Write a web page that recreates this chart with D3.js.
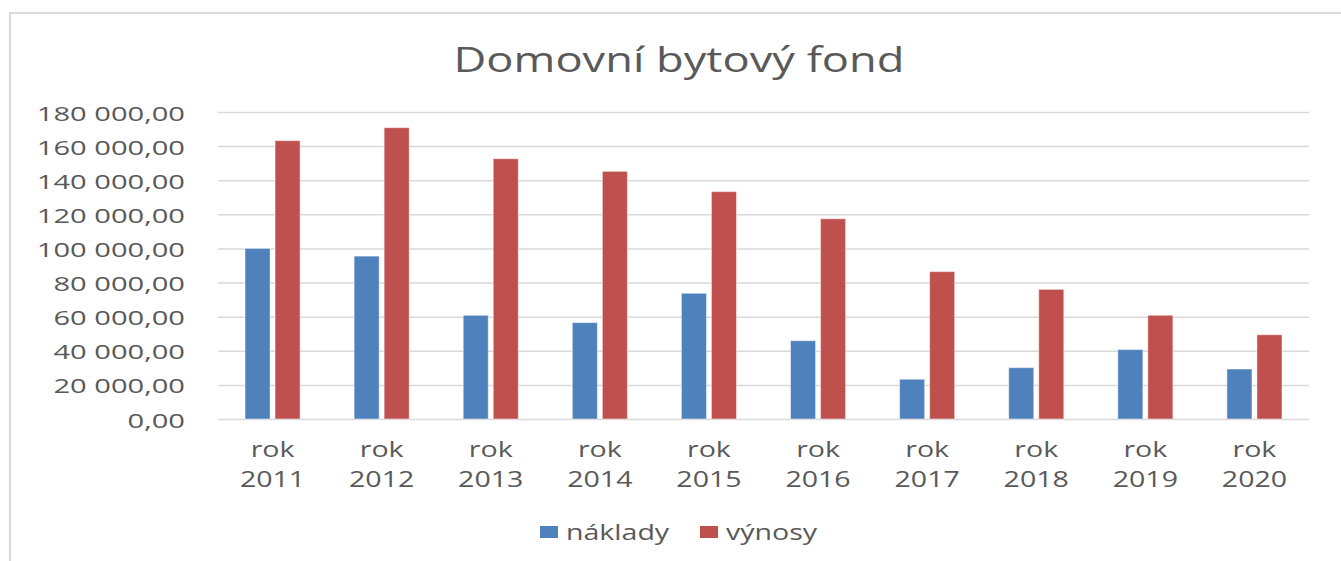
<!DOCTYPE html>
<html>
<head>
<meta charset="utf-8">
<script src="https://cdn.jsdelivr.net/npm/d3@7"></script>
<style>
  body { margin: 0; background: #fff; }
  text { font-family: "Open Sans", sans-serif; fill: #595959; }
</style>
</head>
<body>
<div id="chart"></div>
<script>
// data
let years = ['2011', '2012', '2013', '2014', '2015', '2016', '2017', '2018', '2019', '2020'];
let seriesNames = ['náklady', 'výnosy'];
let naklady = [100000, 95500, 60800, 56500, 73700, 45900, 23300, 30100, 40700, 29300];
let vynosy = [163200, 170800, 152600, 145200, 133300, 117400, 86400, 76000, 60800, 49400];
let yTicks = [0, 20000, 40000, 60000, 80000, 100000, 120000, 140000, 160000, 180000];
let colors = ['#4f81bd', '#c0504d'];

let width = 1341,
    height = 561,
    margin = {left: 218, top: 112, right: 32, bottom: 142},
    plotWidth = width - margin.left - margin.right,
    plotHeight = height - margin.top - margin.bottom,
    stretch = 1.36; // source picture is squeezed wider than tall

let rows = years.map((y, i) => ({year: y, values: [naklady[i], vynosy[i]]}));

let locale = d3.formatLocale({decimal: ',', thousands: '\u00a0', grouping: [3], currency: ['', '']});
let fmt = locale.format(',.2f');

let svg = d3.select('#chart').append('svg')
    .attr('width', width)
    .attr('height', height);

// chart area frame
svg.append('rect')
    .attr('x', 10)
    .attr('y', 13)
    .attr('width', width + 20)
    .attr('height', height + 20)
    .attr('fill', 'none')
    .attr('stroke', '#d9d9d9')
    .attr('stroke-width', 2);

let g = svg.append('g')
    .attr('transform', `translate(${margin.left}, ${margin.top})`);

let x0 = d3.scaleBand()
    .domain(years)
    .range([0, plotWidth]);

let x1 = d3.scaleBand()
    .domain(seriesNames)
    .range([0, x0.bandwidth()])
    .paddingInner(1 / 6)
    .paddingOuter(0.9);

let y = d3.scaleLinear()
    .domain([0, 180000])
    .range([plotHeight, 0]);

// gridlines
let grid = g.append('g')
    .attr('class', 'grid')
    .call(d3.axisLeft(y).tickValues(yTicks).tickSize(-plotWidth).tickFormat(''));
grid.select('.domain').remove();
grid.selectAll('line')
    .attr('stroke', '#d9d9d9')
    .attr('stroke-width', 1.5);

// y labels
let yAxis = g.append('g')
    .call(d3.axisLeft(y).tickValues(yTicks).tickSize(0).tickPadding(0).tickFormat(fmt));
yAxis.select('.domain').remove();
yAxis.selectAll('text')
    .attr('x', null)
    .attr('dy', null)
    .attr('font-size', 20)
    .attr('text-anchor', 'end')
    .attr('dominant-baseline', 'central')
    .attr('transform', `translate(-33, 0) scale(${stretch * 1.07}, 1)`);

// bars
let groups = g.selectAll('.year')
    .data(rows)
    .join('g')
    .attr('class', 'year')
    .attr('transform', d => `translate(${x0(d.year)}, 0)`);

groups.selectAll('rect')
    .data(d => d.values.map((v, i) => ({name: seriesNames[i], value: v, i: i})))
    .join('rect')
    .attr('x', d => x1(d.name))
    .attr('width', x1.bandwidth())
    .attr('y', d => y(d.value))
    .attr('height', d => plotHeight - y(d.value))
    .attr('fill', d => colors[d.i])
    .attr('stroke', '#ffffff')
    .attr('stroke-opacity', 0.45)
    .attr('stroke-width', 1);

// category labels
let xLabels = g.selectAll('.xlabel')
    .data(years)
    .join('text')
    .attr('class', 'xlabel')
    .attr('font-size', 21)
    .attr('text-anchor', 'middle')
    .attr('transform', d => `translate(${x0(d) + x0.bandwidth() / 2}, ${plotHeight + 38}) scale(${stretch}, 1)`);
xLabels.append('tspan')
    .attr('x', 0)
    .attr('y', 0)
    .text('rok');
xLabels.append('tspan')
    .attr('x', 0)
    .attr('y', 30.5)
    .text(d => d);

// title
svg.append('text')
    .attr('font-size', 35)
    .attr('text-anchor', 'middle')
    .attr('transform', `translate(${679}, 72) scale(${stretch * 0.95}, 1)`)
    .text('Domovní bytový fond');

// legend
let legend = svg.append('g')
    .attr('transform', 'translate(540, 526)');
let legendX = [0, 160];
seriesNames.forEach((name, i) => {
    legend.append('rect')
        .attr('x', legendX[i])
        .attr('y', 0)
        .attr('width', 18)
        .attr('height', 12)
        .attr('fill', colors[i]);
    legend.append('text')
        .attr('font-size', 21)
        .attr('transform', `translate(${legendX[i] + 26}, 14) scale(${stretch}, 1)`)
        .text(name);
});
</script>
</body>
</html>
